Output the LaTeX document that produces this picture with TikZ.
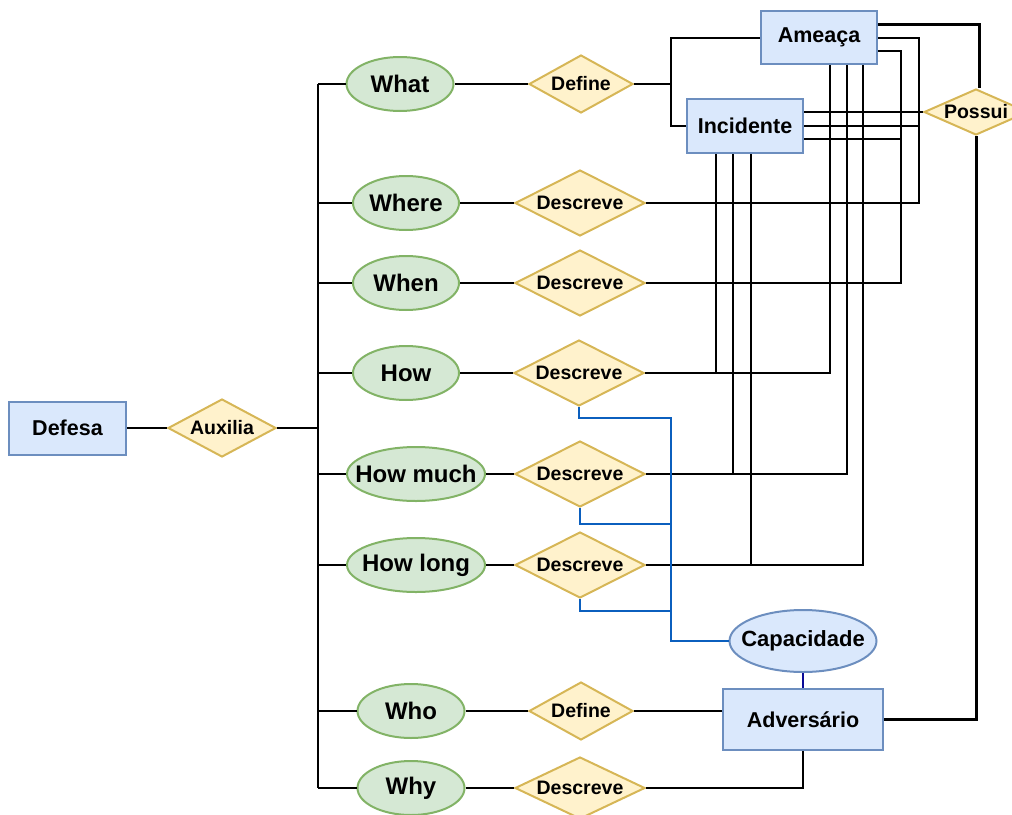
\documentclass[tikz,border=0pt]{standalone}
\usepackage{fontspec}
\setmainfont{Liberation Sans}
\usepackage{tikz}
\usetikzlibrary{shapes.geometric, calc}
\definecolor{entityfill}{HTML}{DAE8FC}
\definecolor{entityedge}{HTML}{6C8EBF}
\definecolor{attrfill}{HTML}{D5E8D4}
\definecolor{attredge}{HTML}{82B366}
\definecolor{relfill}{HTML}{FFF2CC}
\definecolor{reledge}{HTML}{D6B656}
\definecolor{capablue}{HTML}{0B5FBE}
\definecolor{capanavy}{HTML}{0A0A96}
\tikzset{
  % Entities
  entity/.style={
    rectangle, draw=entityedge, fill=entityfill, line width=2pt,
    inner sep=0pt, minimum width=116pt, minimum height=53pt,
    font=\fontsize{21.5}{26}\selectfont\bfseries,
  },
  % Attributes (the questions)
  attrib/.style={
    ellipse, draw=attredge, fill=attrfill, line width=2pt,
    inner xsep=-30pt, inner ysep=0pt, minimum width=#1, minimum height=54pt,
    font=\fontsize{24}{28}\selectfont\bfseries,
  },
  attrib/.default={106pt},
  % Relationships
  relation/.style={
    diamond, aspect=2, draw=reledge, fill=relfill, line width=2pt,
    inner sep=0pt, minimum width=130pt, minimum height=66pt,
    font=\fontsize{19.5}{23}\selectfont\bfseries,
  },
  % Connectors
  link/.style={draw=black, line width=2pt},
  heavylink/.style={draw=black, line width=3pt},
  capalink/.style={draw=capablue, line width=2pt},
}

\begin{document}
\begin{tikzpicture}[x=1pt, y=-1pt]
  \useasboundingbox (0,0) rectangle (1012,814);

  % Defesa side
  \node[entity, minimum width=117pt] (defesa) at (67.5,428) {Defesa};
  \node[relation, minimum width=108pt, minimum height=58pt] (auxilia) at (222,428) {Auxilia};
  \coordinate (trunkN) at (318,84);
  \coordinate (trunkS) at (318,788);

  % Questions
  \node[attrib=107pt] (what)    at (400,84)  {What};
  \node[attrib]       (where)   at (406,203) {Where};
  \node[attrib]       (when)    at (406,283) {When};
  \node[attrib]       (how)     at (406,373) {How};
  \node[attrib=138pt] (howmuch) at (416,474) {How much};
  \node[attrib=138pt] (howlong) at (416,565) {How long};
  \node[attrib=107pt] (who)     at (411,711) {Who};
  \node[attrib=107pt] (why)     at (411,788) {Why};

  % Relationships
  \node[relation, minimum width=104pt, minimum height=58pt] (what-rel) at (581,84) {Define};
  \node[relation] (where-rel)   at (580,203) {Descreve};
  \node[relation] (when-rel)    at (580,283) {Descreve};
  \node[relation] (how-rel)     at (579,373) {Descreve};
  \node[relation] (howmuch-rel) at (580,474) {Descreve};
  \node[relation] (howlong-rel) at (580,565) {Descreve};
  \node[relation, minimum width=104pt, minimum height=58pt] (who-rel) at (581,711) {Define};
  \node[relation, minimum height=62pt] (why-rel) at (580,788) {Descreve};
  \node[relation, aspect=2.3, minimum width=104pt, minimum height=46pt] (possui) at (976,112) {Possui};

  % Entities on the right
  \node[entity] (ameaca)    at (819,37.5) {Ameaça};
  \node[entity, minimum height=54pt] (incidente) at (745,126) {Incidente};
  \node[attrib=147pt, draw=entityedge, fill=entityfill, minimum height=62pt,
        font=\fontsize{22}{26}\selectfont\bfseries] (capacidade) at (803,641) {Capacidade};
  \node[entity, minimum width=160pt, minimum height=61pt] (adversario) at (803,719.5) {Adversário};

  % Trunk and branches
  \draw[link] (defesa) -- (auxilia);
  \draw[link] (auxilia) -- (auxilia -| trunkN);
  \draw[link] (trunkN) -- (trunkS);
  \foreach \q in {what,where,when,how,howmuch,howlong,who,why} {
    \draw[link] (trunkN |- \q.west) -- (\q.west);
    \draw[link] (\q) -- (\q-rel);
  }

  % What defines Ameaça and Incidente
  \coordinate (split) at ([xshift=37pt]what-rel.east);
  \draw[link] (what-rel.east) -- (split) |- (ameaca.west);
  \draw[link] (split) |- (incidente.west);

  % Ameaça links
  \draw[heavylink] ([yshift=13.5pt]ameaca.east) -| ([xshift=3pt]possui.north);
  \draw[link] (ameaca.east) -- ++(41,0) |- (where-rel.east);
  \draw[link] ([yshift=-13.5pt]ameaca.east) -- ++(23,0) |- (when-rel.east);
  \draw[link] ([xshift=11pt]ameaca.south) |- (how-rel.east);
  \draw[link] ([xshift=28pt]ameaca.south) |- (howmuch-rel.east);
  \draw[link] ([xshift=44pt]ameaca.south) |- (howlong-rel.east);

  % Incidente links
  \draw[link] (possui.west -| incidente.east) -- (possui.west);
  \draw[link] (incidente.east) -- ++(115,0) |- (where-rel.east);
  \draw[link] ([yshift=-12.5pt]incidente.east) -- ++(97,0) |- (when-rel.east);
  \draw[link] ([xshift=-29pt]incidente.south) |- (how-rel.east);
  \draw[link] ([xshift=-12pt]incidente.south) |- (howmuch-rel.east);
  \draw[link] ([xshift=6pt]incidente.south) |- (howlong-rel.east);

  % Capacidade
  \coordinate (capjoin) at ([xshift=-58pt]capacidade.west);
  \draw[capalink] (how-rel.south) -- ++(0,11) -| (capjoin) -- (capacidade.west);
  \draw[capalink] (howmuch-rel.south) -- ++(0,16) -| (capjoin);
  \draw[capalink] (howlong-rel.south) -- ++(0,12) -| (capjoin);
  \draw[draw=capanavy, line width=2pt] (capacidade) -- (adversario);

  % Adversário
  \draw[heavylink] (possui.south) |- (adversario.east);
  \draw[link] (who-rel.east) -- (who-rel.east -| adversario.west);
  \draw[link] (why-rel.east) -| (adversario.south);
\end{tikzpicture}
\end{document}
